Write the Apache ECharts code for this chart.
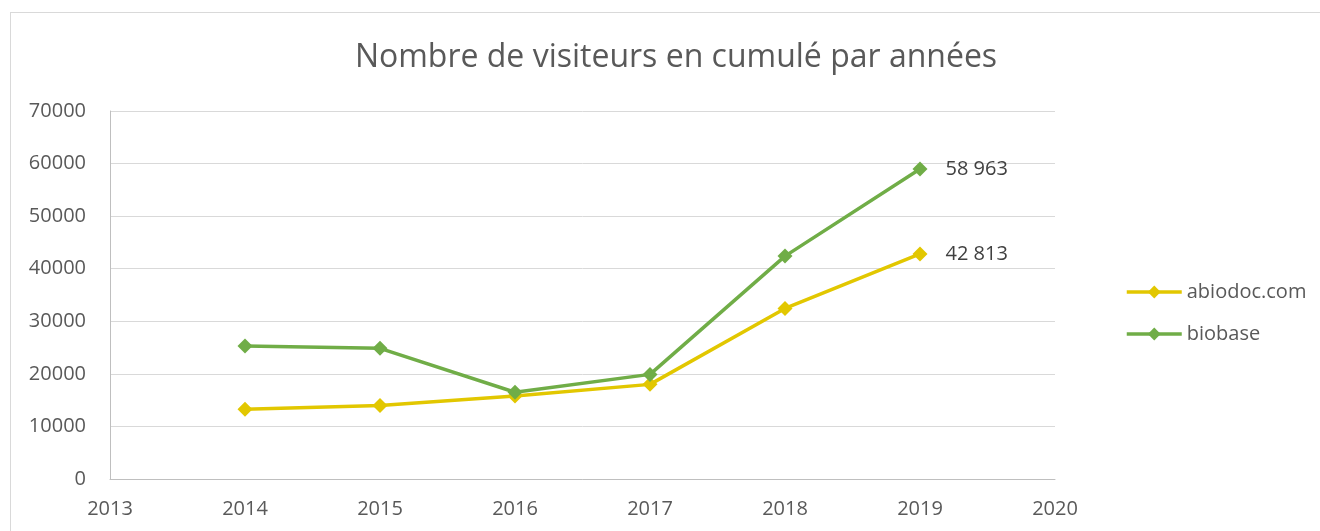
<!DOCTYPE html>
<html lang="fr">
<head>
    <meta charset="UTF-8">
    <title>Nombre de visiteurs en cumulé par années</title>
    <script src="https://cdn.jsdelivr.net/npm/echarts@6/dist/echarts.min.js"></script>
    <style>
        body { margin: 0; background: #fff; }
        #frame { position: absolute; left: 10px; top: 12px; width: 1400px; height: 600px; border: 1px solid #d9d9d9; box-sizing: border-box; }
        #main { position: absolute; left: 0; top: 0; width: 1320px; height: 531px; }
    </style>
</head>
<body>
<div id="frame"></div>
<div id="main"></div>
<script type="text/javascript">
    // données
    var annees = [2014, 2015, 2016, 2017, 2018, 2019];
    var abiodoc = [13250, 14000, 15800, 18000, 32450, 42813];
    var biobase = [25300, 24850, 16500, 19900, 42400, 58963];
    var yTicks = [0, 10000, 20000, 30000, 40000, 50000, 60000, 70000];

    var myChart = echarts.init(document.getElementById('main'));

    function toPoints(vals) {
        return vals.map(function (v, i) {
            var p = { value: [annees[i], v] };
            if (i === vals.length - 1) {
                p.label = {
                    show: true,
                    position: 'right',
                    distance: 18,
                    fontSize: 20,
                    color: '#404040',
                    fontFamily: 'Open Sans',
                    formatter: function (d) {
                        return String(d.value[1]).replace(/\B(?=(\d{3})+(?!\d))/g, ' ');
                    }
                };
            }
            return p;
        });
    }

    var option = {
        animation: false,
        title: {
            text: 'Nombre de visiteurs en cumulé par années',
            left: 671,
            textAlign: 'center',
            top: 37,
            textStyle: { fontSize: 32, fontWeight: 'normal', color: '#595959', fontFamily: 'Open Sans' }
        },
        legend: {
            orient: 'vertical',
            left: 1120,
            top: 277,
            itemGap: 22,
            itemWidth: 55,
            itemHeight: 16,
            lineStyle: { width: 3.5 },
            textStyle: { fontSize: 20, color: '#595959', fontFamily: 'Open Sans' },
            data: ['abiodoc.com', 'biobase']
        },
        grid: { left: 110, right: 265, top: 111, bottom: 52 },
        xAxis: {
            type: 'value',
            min: 2013,
            max: 2020,
            interval: 1,
            axisLine: { lineStyle: { color: '#bfbfbf' } },
            axisTick: { show: false },
            splitLine: { show: false },
            axisLabel: { fontSize: 20, color: '#595959', margin: 20, fontFamily: 'Open Sans', formatter: function (v) { return String(v); } }
        },
        yAxis: {
            type: 'value',
            min: yTicks[0],
            max: yTicks[yTicks.length - 1],
            interval: 10000,
            axisLine: { show: true, lineStyle: { color: '#bfbfbf' } },
            axisTick: { show: false },
            splitLine: { lineStyle: { color: '#d9d9d9' } },
            axisLabel: { fontSize: 20, color: '#595959', margin: 24, fontFamily: 'Open Sans', formatter: function (v) { return String(v); } }
        },
        series: [
            {
                name: 'abiodoc.com',
                type: 'line',
                data: toPoints(abiodoc),
                symbol: 'diamond',
                symbolSize: 15,
                color: '#e2c700',
                lineStyle: { width: 3.5 }
            },
            {
                name: 'biobase',
                type: 'line',
                data: toPoints(biobase),
                symbol: 'diamond',
                symbolSize: 15,
                color: '#70ad47',
                lineStyle: { width: 3.5 }
            }
        ]
    };

    myChart.setOption(option);
</script>
</body>
</html>
